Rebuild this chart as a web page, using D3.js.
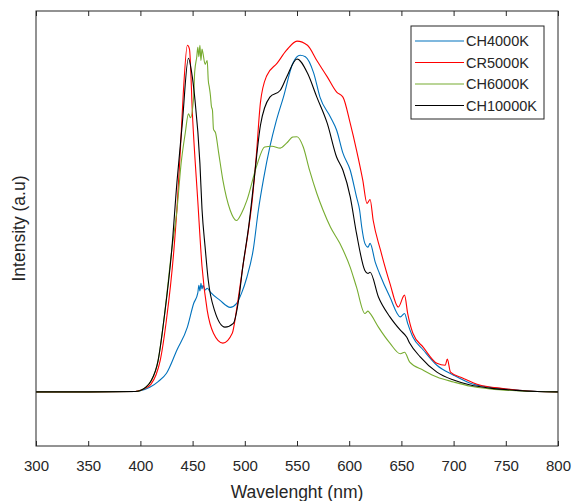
<!DOCTYPE html>
<html>
<head>
<meta charset="utf-8">
<script src="https://cdn.jsdelivr.net/npm/d3@7"></script>
<style>
  body { margin: 0; background: #fff; }
  text { font-family: "Liberation Sans", Arial, sans-serif; fill: #262626; }
</style>
</head>
<body>
<div id="chart"></div>
<script>
// emission spectra (intensity normalised, baseline = 0)
const wlBlue = [300,350,395,400,409,417,425,435,445,451,455,456,457,458,459,460,462,464,467,476,486,492,497,502,508,513,518,524,530,537,546,553,558,566,572,582,588,594,601,607,610,612,615,618,620,625,629,639,649,653,656,661,671,684,700,716,735,760,780,800];
const blueVals = [0,0,0.001,0.003,0.012,0.027,0.049,0.11,0.17,0.232,0.26,0.28,0.265,0.285,0.27,0.28,0.268,0.272,0.262,0.241,0.222,0.232,0.26,0.301,0.372,0.477,0.56,0.643,0.71,0.774,0.863,0.884,0.88,0.837,0.774,0.722,0.687,0.627,0.582,0.512,0.477,0.433,0.39,0.38,0.39,0.34,0.311,0.249,0.197,0.206,0.18,0.144,0.11,0.07,0.044,0.023,0.012,0.005,0.001,0];

const wlRed = [300,350,395,400,405,410,415,419,425,432,435,438,441,445,447,450,455,459,464,470,479,488,492,498,503,507,511,515,521,531,540,550,560,569,579,588,594,601,607,613,617,620,623,630,639,647,653,656,661,671,684,692,694,697,709,725,744,760,780,800];
const redVals = [0,0,0.001,0.004,0.01,0.02,0.045,0.083,0.19,0.37,0.48,0.62,0.78,0.91,0.9,0.72,0.5,0.33,0.214,0.154,0.128,0.154,0.214,0.327,0.416,0.5,0.62,0.76,0.83,0.863,0.897,0.921,0.91,0.87,0.827,0.787,0.774,0.705,0.635,0.556,0.495,0.505,0.45,0.372,0.285,0.223,0.254,0.206,0.154,0.117,0.075,0.07,0.086,0.052,0.036,0.018,0.01,0.005,0.001,0];

const wlGreen = [300,350,395,400,405,410,417,423,430,435,439,443,446,448,451,452,454,455,456,457,458,459,460,462,464,465,466,467,468,469,470,472,475,479,486,492,497,502,511,519,526,534,540,546,550,556,562,569,575,582,591,601,607,615,618,620,628,639,649,653,658,671,684,700,716,735,760,780,800];
const greenVals = [0,0,0.001,0.004,0.012,0.028,0.083,0.2,0.372,0.477,0.6,0.68,0.73,0.72,0.774,0.84,0.88,0.905,0.88,0.91,0.87,0.9,0.888,0.86,0.87,0.818,0.8,0.78,0.75,0.74,0.69,0.68,0.627,0.556,0.477,0.45,0.47,0.503,0.59,0.643,0.645,0.64,0.653,0.669,0.67,0.643,0.582,0.521,0.477,0.433,0.39,0.327,0.275,0.206,0.212,0.206,0.17,0.128,0.1,0.104,0.078,0.057,0.039,0.026,0.015,0.008,0.003,0.001,0];

const wlBlack = [300,350,395,400,405,410,417,423,430,435,440,446,449,452,457,459,462,465,471,481,489,494,498,504,509,515,524,534,540,550,560,569,579,588,594,601,607,615,618,620,628,639,649,655,658,668,684,700,716,735,760,780,800];
const blackVals = [0,0,0.001,0.004,0.012,0.028,0.083,0.2,0.372,0.55,0.7,0.876,0.84,0.774,0.6,0.48,0.38,0.293,0.214,0.17,0.18,0.24,0.327,0.44,0.56,0.7,0.774,0.792,0.826,0.874,0.837,0.774,0.705,0.616,0.582,0.512,0.416,0.319,0.311,0.314,0.249,0.197,0.162,0.144,0.128,0.092,0.052,0.031,0.018,0.01,0.004,0.001,0];

const seriesNames = ['CH4000K','CR5000K','CH6000K','CH10000K'];
const xTicks = [300,350,400,450,500,550,600,650,700,750,800];

const seriesColors = ['#0072BD','#FF0000','#77AC30','#000000'];
const series = [
  {wl: wlBlue, v: blueVals},
  {wl: wlRed, v: redVals},
  {wl: wlGreen, v: greenVals},
  {wl: wlBlack, v: blackVals}
].map((s, i) => ({
  name: seriesNames[i],
  color: seriesColors[i],
  points: s.wl.map((w, j) => [w, s.v[j]])
}));

const W = 574, H = 501;
const m = {left: 36, top: 11, right: 16, bottom: 55};
const iw = W - m.left - m.right, ih = H - m.top - m.bottom;

const svg = d3.select('#chart').append('svg')
  .attr('width', W).attr('height', H);

const x = d3.scaleLinear().domain([300, 800]).range([0, iw]);
const y = d3.scaleLinear().domain([-0.142, 1]).range([ih, 0]);

const g = svg.append('g').attr('transform', `translate(${m.left},${m.top})`);

g.append('clipPath').attr('id', 'clip')
  .append('rect').attr('width', iw).attr('height', ih);

const line = d3.line()
  .x(d => x(d[0]))
  .y(d => y(d[1]))
  .curve(d3.curveMonotoneX);

g.append('g').attr('clip-path', 'url(#clip)')
  .selectAll('path')
  .data(series)
  .join('path')
  .attr('fill', 'none')
  .attr('stroke', d => d.color)
  .attr('stroke-width', 1.1)
  .attr('stroke-linejoin', 'round')
  .attr('d', d => line(d.points));

// bottom and top axes, ticks pointing inward
const xAxis = g.append('g').attr('transform', `translate(0,${ih})`)
  .call(d3.axisBottom(x).tickValues(xTicks).tickSizeInner(-5).tickSizeOuter(0).tickPadding(14));
xAxis.selectAll('text').style('font-size', '15px').attr('fill', '#262626');

const topAxis = g.append('g')
  .call(d3.axisTop(x).tickValues(xTicks).tickSizeInner(-5).tickSizeOuter(0).tickFormat(''));

g.selectAll('.domain').remove();
g.selectAll('.tick line').attr('stroke', '#262626');

g.append('rect')
  .attr('width', iw).attr('height', ih)
  .attr('fill', 'none').attr('stroke', '#262626').attr('stroke-width', 1);

// axis labels
svg.append('text')
  .attr('x', m.left + iw / 2).attr('y', 498)
  .attr('text-anchor', 'middle')
  .style('font-size', '17.5px')
  .text('Wavelenght (nm)');

svg.append('text')
  .attr('transform', `translate(25,${m.top + ih / 2}) rotate(-90)`)
  .attr('text-anchor', 'middle')
  .style('font-size', '17.5px')
  .text('Intensity (a.u)');

// legend
const lg = svg.append('g').attr('transform', 'translate(411,26)');
lg.append('rect').attr('width', 133).attr('height', 93)
  .attr('fill', '#fff').attr('stroke', '#262626').attr('stroke-width', 1);
const row = lg.selectAll('g.row').data(series).join('g')
  .attr('class', 'row')
  .attr('transform', (d, i) => `translate(0,${15 + i * 21.5})`);
row.append('line')
  .attr('x1', 4).attr('x2', 53)
  .attr('stroke', d => d.color).attr('stroke-width', 1.1);
row.append('text')
  .attr('x', 55).attr('dy', '0.36em')
  .style('font-size', '14.5px')
  .text(d => d.name);
</script>
</body>
</html>
